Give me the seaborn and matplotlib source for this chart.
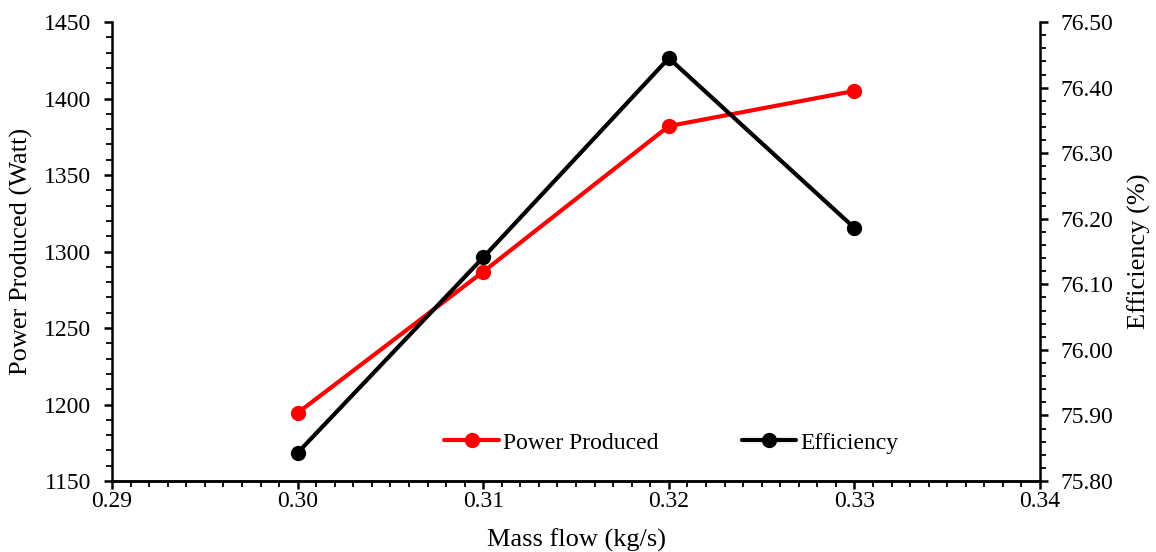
import numpy as np
import pandas as pd
import matplotlib
matplotlib.use("Agg")
import matplotlib.pyplot as plt
import seaborn as sns
from matplotlib.ticker import MultipleLocator, FormatStrFormatter
from matplotlib.lines import Line2D

# data
mass_flow = [0.30, 0.31, 0.32, 0.33]
power = [1194.5, 1286.8, 1382.0, 1405.0]
efficiency = [75.843, 76.141, 76.445, 76.186]

df = pd.DataFrame({"mass_flow": mass_flow, "power": power, "efficiency": efficiency})

sns.set_theme(style="ticks")
plt.rcParams['font.family'] = ['Liberation Serif', 'DejaVu Serif']
FS = 17      # tick / legend text
LFS = 19     # axis titles
plt.rcParams.update({'axes.labelsize': LFS, 'xtick.labelsize': FS, 'ytick.labelsize': FS,
                     'legend.fontsize': FS, 'text.color': 'black', 'axes.labelcolor': 'black'})

LW = 3.0
MS = 11
fig = plt.figure(figsize=(11.56, 5.52), dpi=100)
ax = fig.add_axes([0.0969, 0.1286, 0.8028, 0.8314])
ax2 = ax.twinx()

sns.lineplot(data=df, x="mass_flow", y="power", ax=ax, color="#ff0000", linewidth=LW,
             marker="o", markersize=MS, markeredgewidth=0)
sns.lineplot(data=df, x="mass_flow", y="efficiency", ax=ax2, color="black", linewidth=LW,
             marker="o", markersize=MS, markeredgewidth=0)

ax.set_xlim(0.29, 0.34)
ax.set_ylim(1150, 1450)
ax2.set_ylim(75.80, 76.50)

ax.xaxis.set_major_locator(MultipleLocator(0.01))
ax.xaxis.set_minor_locator(MultipleLocator(0.001))
ax.xaxis.set_major_formatter(FormatStrFormatter('%.2f'))
ax.yaxis.set_major_locator(MultipleLocator(50))
ax.yaxis.set_minor_locator(MultipleLocator(10))
ax2.yaxis.set_major_locator(MultipleLocator(0.1))
ax2.yaxis.set_minor_locator(MultipleLocator(0.02))
ax2.yaxis.set_major_formatter(FormatStrFormatter('%.2f'))

for a in (ax, ax2):
    a.spines['top'].set_visible(False)
    for s in a.spines.values():
        s.set_linewidth(1.8)
        s.set_color('black')
    a.tick_params(which='major', direction='out', length=6, width=1.8, labelsize=FS,
                  colors='black', pad=9)
    a.tick_params(which='minor', direction='out', length=4, width=1.3, colors='black')
ax.tick_params(axis='x', which='major', pad=1)
ax2.spines['left'].set_visible(False)
ax.spines['right'].set_visible(False)

ax.set_xlabel("Mass flow (kg/s)", fontsize=LFS, color='black', labelpad=12)
ax.set_ylabel("Power Produced (Watt)", fontsize=LFS, color='black', labelpad=8)
ax2.set_ylabel("Efficiency (%)", fontsize=LFS, color='black', labelpad=10)
ax.grid(False)
ax2.grid(False)

handles = [Line2D([], [], color="#ff0000", linewidth=LW, marker="o", markersize=MS, markeredgewidth=0),
           Line2D([], [], color="black", linewidth=LW, marker="o", markersize=MS, markeredgewidth=0)]
leg = ax.legend(handles, ["Power Produced", "Efficiency"], loc="center", bbox_to_anchor=(0.603, 0.083),
                ncol=2, frameon=False, fontsize=FS, columnspacing=3.5, handlelength=2.3,
                handletextpad=0.2)
for t in leg.get_texts():
    t.set_color('black')

fig.savefig("out.png", dpi=100)
